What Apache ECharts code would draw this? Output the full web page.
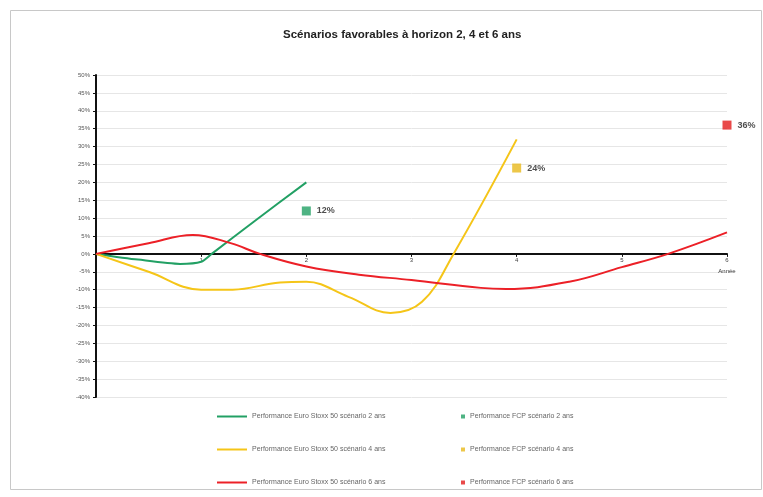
<!DOCTYPE html>
<html>
<head>
<meta charset="utf-8">
<script src="https://cdn.jsdelivr.net/npm/echarts@6/dist/echarts.min.js"></script>
<style>
  html, body { margin: 0; padding: 0; background: #fff; }
  #chart { width: 763px; height: 497px; }
</style>
</head>
<body>
<div id="chart"></div>
<script>
(function () {
  // points: [année, performance %]
  const euroStoxx2 = [[0, 0], [0.4, -1.6], [0.8, -2.8], [1, -2.2], [1.1, 0], [1.5, 9], [2, 20]];
  const euroStoxx4 = [[0, 0], [0.5, -5], [1, -10], [1.3, -10], [1.75, -8], [2, -7.8], [2.4, -12], [2.8, -16.5], [3.1, -13.4], [3.4, 0], [4, 32]];
  const euroStoxx6 = [[0, 0], [0.5, 3], [0.92, 5.3], [1.28, 3], [1.56, 0], [2, -3.5], [2.5, -5.8], [3, -7.3], [3.66, -9.5], [3.9, -9.8], [4.5, -7.8], [5, -3.7], [5.44, 0], [6, 6]];
  const fcp2 = [[2, 12]];
  const fcp4 = [[4, 24]];
  const fcp6 = [[6, 36]];

  const lineNames = [
    'Performance Euro Stoxx 50 scénario 2 ans',
    'Performance Euro Stoxx 50 scénario 4 ans',
    'Performance Euro Stoxx 50 scénario 6 ans',
  ];
  const fcpNames = [
    'Performance FCP scénario 2 ans',
    'Performance FCP scénario 4 ans',
    'Performance FCP scénario 6 ans',
  ];
  const yTicks = { min: -40, max: 50, step: 5 };
  const xTicks = { min: 0, max: 6, step: 1 };

  const green = '#22a064';
  const yellow = '#f5c518';
  const red = '#ec2027';
  const font = 'Liberation Sans, Arial, sans-serif';

  const gridTop = 75;
  const gridBottom = 100;
  const plotHeight = 497 - gridTop - gridBottom;
  // move the x axis up to the 0% line (labels included)
  const zeroOffset = -plotHeight * (0 - yTicks.min) / (yTicks.max - yTicks.min);

  function lineSeries(name, data, color, smooth) {
    return {
      name: name,
      type: 'line',
      data: data,
      smooth: smooth,
      showSymbol: false,
      symbol: 'none',
      lineStyle: { color: color, width: 2 },
      itemStyle: { color: color },
      z: 3,
    };
  }

  function fcpSeries(name, data, color) {
    return {
      name: name,
      type: 'scatter',
      data: data,
      symbol: 'rect',
      symbolSize: 9,
      itemStyle: { color: color },
      label: {
        show: true,
        position: 'right',
        distance: 6,
        formatter: (p) => p.value[1] + '%',
        color: '#222',
        fontSize: 9,
        fontWeight: 'bold',
        fontFamily: font,
      },
      z: 4,
    };
  }

  const legendText = { color: '#666', fontSize: 7, fontFamily: font };

  const option = {
    animation: false,
    backgroundColor: '#fff',
    title: {
      text: 'Scénarios favorables à horizon 2, 4 et 6 ans',
      left: 278,
      top: 24,
      textStyle: { fontSize: 11.5, fontWeight: 'bold', color: '#222', fontFamily: font },
    },
    graphic: [{
      type: 'rect',
      shape: { x: 10.5, y: 10.5, width: 751, height: 479 },
      style: { fill: 'none', stroke: '#c8c8c8', lineWidth: 1 },
      silent: true,
      z: -1,
    }],
    legend: [
      {
        data: lineNames,
        orient: 'vertical',
        left: 212,
        top: 408,
        itemGap: 26,
        itemWidth: 30,
        itemHeight: 2,
        icon: 'rect',
        textStyle: legendText,
      },
      {
        data: fcpNames,
        orient: 'vertical',
        left: 456,
        top: 408,
        itemGap: 26,
        itemWidth: 4,
        itemHeight: 4,
        icon: 'rect',
        textStyle: legendText,
      },
    ],
    grid: { left: 96, right: 36, top: gridTop, bottom: gridBottom, containLabel: false },
    xAxis: {
      type: 'value',
      min: xTicks.min,
      max: xTicks.max,
      interval: xTicks.step,
      offset: zeroOffset,
      name: 'Année',
      nameLocation: 'end',
      nameGap: 0,
      nameTextStyle: { fontSize: 6, color: '#333', fontFamily: font, align: 'center', verticalAlign: 'top', padding: [14, 0, 0, 0] },
      axisLine: { onZero: false, lineStyle: { color: '#111', width: 2 } },
      axisTick: { show: true, length: 3, lineStyle: { color: '#111' } },
      axisLabel: {
        fontSize: 6,
        color: '#444',
        margin: 3,
        fontFamily: font,
        formatter: (v) => (v === 0 ? '' : String(v)),
      },
      splitLine: { show: false },
    },
    yAxis: {
      type: 'value',
      min: yTicks.min,
      max: yTicks.max,
      interval: yTicks.step,
      axisLine: { show: true, lineStyle: { color: '#111', width: 2 } },
      axisTick: { show: true, length: 3, lineStyle: { color: '#111' } },
      axisLabel: {
        fontSize: 6,
        color: '#555',
        margin: 6,
        fontFamily: font,
        formatter: (v) => v + '%',
      },
      splitLine: { show: true, lineStyle: { color: '#e6e6e6', width: 1 } },
    },
    series: [
      lineSeries(lineNames[0], euroStoxx2, green, 0.25),
      fcpSeries(fcpNames[0], fcp2, green),
      lineSeries(lineNames[1], euroStoxx4, yellow, 0.4),
      fcpSeries(fcpNames[1], fcp4, '#e9b91c'),
      lineSeries(lineNames[2], euroStoxx6, red, 0.4),
      fcpSeries(fcpNames[2], fcp6, '#e31b1b'),
    ],
  };

  const chart = echarts.init(document.getElementById('chart'), null, { renderer: 'canvas' });
  chart.setOption(option);
})();
</script>
</body>
</html>
